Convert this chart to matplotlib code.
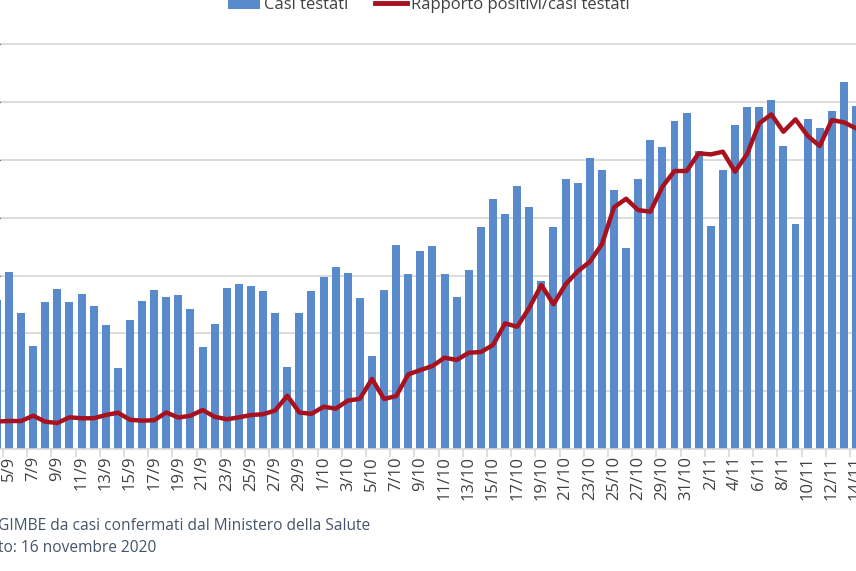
import matplotlib
matplotlib.use("Agg")
import matplotlib.pyplot as plt
import numpy as np
from matplotlib.patches import Patch
from matplotlib.lines import Line2D
from datetime import date, timedelta

plt.rcParams['font.family'] = ['Open Sans', 'DejaVu Sans']

# Categories: daily dates from 4/9 to 14/11 (2020)
start = date(2020, 9, 4)
n_days = 72
dates = [f"{(start + timedelta(days=i)).day}/{(start + timedelta(days=i)).month}" for i in range(n_days)]

# Casi testati (daily)
casi_testati = [
    51600, 61300, 47000, 35600, 50800, 55500, 50800, 53700, 49600, 42800,
    28100, 44500, 51200, 55000, 52500, 53400, 48300, 35200, 43250, 55800,
    57200, 56300, 54700, 47100, 28500, 47000, 54700, 59600, 63000, 60900,
    52100, 32300, 55000, 70600, 60400, 68500, 70100, 60400, 52500, 61800,
    76900, 86600, 81200, 90900, 83600, 58100, 76900, 93300, 92100, 100600,
    96400, 89600, 69400, 93300, 106900, 104400, 113600, 116200, 103000, 77100,
    96400, 112000, 118200, 118200, 120800, 104700, 77900, 114100, 111100, 116900,
    127000, 118600,
]

# Rapporto positivi / casi testati (%)
rapporto = [
    2.38, 2.42, 2.42, 2.88, 2.36, 2.25, 2.74, 2.66, 2.66, 2.94,
    3.14, 2.53, 2.45, 2.49, 3.16, 2.72, 2.88, 3.37, 2.79, 2.57,
    2.74, 2.94, 3.01, 3.33, 4.61, 3.16, 3.04, 3.66, 3.49, 4.18,
    4.35, 6.06, 4.33, 4.58, 6.46, 6.83, 7.18, 7.90, 7.70, 8.33,
    8.39, 9.00, 10.87, 10.58, 12.22, 14.19, 12.52, 14.25, 15.37, 16.20,
    17.71, 20.91, 21.65, 20.67, 20.53, 22.69, 24.05, 24.05, 25.58, 25.49,
    25.72, 23.99, 25.52, 28.17, 28.95, 27.45, 28.52, 27.10, 26.21, 28.46,
    28.26, 27.74,
]

legend_labels = ["Casi testati", "Rapporto positivi/casi testati"]
source_lines = ["GIMBE da casi confermati dal Ministero della Salute",
                "to: 16 novembre 2020"]

BLUE = '#588ACC'
RED = '#A8121E'
GRID = '#D9D9D9'

W, H = 856, 571
fig = plt.figure(figsize=(W / 100, H / 100), dpi=100)
ax = fig.add_axes([0, (H - 449) / H, 1, 419 / H])

x = np.arange(n_days)
ax.bar(x, casi_testati, width=0.66, color=BLUE, zorder=2)
ax.set_xlim(0.258, 70.86)
ax.set_ylim(0, 145000)
ax.set_yticks(np.arange(20000, 145000, 20000))
ax.yaxis.grid(True, color=GRID, lw=1.3)
ax.set_axisbelow(True)
ax.tick_params(axis='y', left=False, labelleft=False)
for s in ['left', 'right', 'top']:
    ax.spines[s].set_visible(False)
ax.spines['bottom'].set_color(GRID)
ax.spines['bottom'].set_linewidth(1.2)

ax.set_xticks(x[1::2])
ax.set_xticklabels(dates[1::2], rotation=90, fontsize=12, color='#404040')
ax.tick_params(axis='x', which='major', length=0, pad=5)
ax.set_xticks(x[1::2] - 0.5, minor=True)
ax.tick_params(axis='x', which='minor', length=6, color=GRID, width=1.2)

ax2 = ax.twinx()
ax2.plot(x, rapporto, color=RED, lw=3.2, solid_joinstyle='round', solid_capstyle='round')
ax2.set_ylim(0, 36.25)
ax2.axis('off')

handles = [Patch(facecolor=BLUE, edgecolor='none'),
           Line2D([0], [0], color=RED, lw=3.5)]
fig.legend(handles, legend_labels, loc='lower center', ncol=2,
           bbox_to_anchor=(429 / W, 1 - 21 / H), frameon=False, borderpad=0,
           fontsize=12, handlelength=1.9, handletextpad=0.25, columnspacing=1.6,
           labelcolor='#404040')

fig.text(-2 / W, 1 - 526 / H, source_lines[0], fontsize=11.2, color='#44546A',
         ha='left', va='center')
fig.text(-2 / W, 1 - 548 / H, source_lines[1], fontsize=11.2, color='#44546A',
         ha='left', va='center')

fig.savefig('out.png', dpi=100)
